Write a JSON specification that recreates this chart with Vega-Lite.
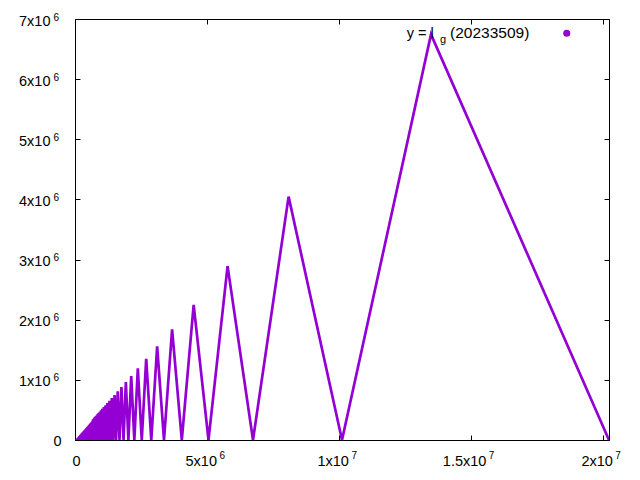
{
  "$schema": "https://vega.github.io/schema/vega-lite/v6.json",
  "width": 534,
  "height": 421,
  "autosize": {"type": "none"},
  "padding": {"left": 75, "top": 19, "right": 31, "bottom": 40},
  "background": "white",
  "config": {
    "view": {"stroke": "black", "strokeWidth": 1},
    "font": "Liberation Sans",
    "text": {"font": "Liberation Sans", "color": "black"}
  },
  "datasets": {
    "curve": [
      {"x": 20233509, "y": 0},
      {"x": 13489006, "y": 6744503},
      {"x": 10116755, "y": 0},
      {"x": 8093404, "y": 4046702},
      {"x": 6744503, "y": 0},
      {"x": 5781003, "y": 2890501},
      {"x": 5058377, "y": 0},
      {"x": 4496335, "y": 2248168},
      {"x": 4046702, "y": 0},
      {"x": 3678820, "y": 1839410},
      {"x": 3372252, "y": 0},
      {"x": 3112848, "y": 1556424},
      {"x": 2890501, "y": 0},
      {"x": 2697801, "y": 1348901},
      {"x": 2529189, "y": 0},
      {"x": 2380413, "y": 1190206},
      {"x": 2248168, "y": 0},
      {"x": 2129843, "y": 1064922},
      {"x": 2023351, "y": 0},
      {"x": 1927001, "y": 963500},
      {"x": 1839410, "y": 0},
      {"x": 1759436, "y": 879718},
      {"x": 1686126, "y": 0},
      {"x": 1618681, "y": 809340},
      {"x": 1556424, "y": 0},
      {"x": 1498778, "y": 749389},
      {"x": 1445251, "y": 0},
      {"x": 1395414, "y": 697707},
      {"x": 1348901, "y": 0},
      {"x": 1305388, "y": 652694},
      {"x": 1264594, "y": 0},
      {"x": 1226273, "y": 613137},
      {"x": 1190206, "y": 0},
      {"x": 1156200, "y": 578100},
      {"x": 1124084, "y": 0},
      {"x": 1093703, "y": 546852},
      {"x": 1064922, "y": 0},
      {"x": 1037616, "y": 518808},
      {"x": 1011675, "y": 0},
      {"x": 987000, "y": 493500},
      {"x": 963500, "y": 0},
      {"x": 941093, "y": 470547},
      {"x": 919705, "y": 0},
      {"x": 899267, "y": 449634},
      {"x": 879718, "y": 0},
      {"x": 861000, "y": 430500},
      {"x": 843063, "y": 0},
      {"x": 825858, "y": 412929},
      {"x": 809340, "y": 0},
      {"x": 793471, "y": 396735},
      {"x": 778212, "y": 0},
      {"x": 763529, "y": 381764},
      {"x": 749389, "y": 0},
      {"x": 735764, "y": 367882},
      {"x": 722625, "y": 0},
      {"x": 709948, "y": 354974},
      {"x": 697707, "y": 0},
      {"x": 685882, "y": 342941},
      {"x": 674450, "y": 0}
    ],
    "fill": [
      {"x": 0, "y": 0},
      {"x": 674450, "y": 337225}
    ],
    "key": [
      {"label": "y = l", "sub": "g", "arg": "(20233509)"}
    ]
  },
  "layer": [
    {
      "data": {"name": "curve"},
      "mark": {"type": "line", "color": "#9400D3", "strokeWidth": 2.7, "clip": true},
      "encoding": {
        "x": {
          "field": "x", "type": "quantitative",
          "scale": {"domain": [0, 20233509], "nice": false, "zero": true},
          "axis": {
            "orient": "bottom", "title": null, "values": [0, 5000000, 10000000, 15000000, 20000000],
            "labels": false, "domain": false, "grid": false, "ticks": true,
            "tickSize": -5, "tickColor": "black", "tickWidth": 1
          }
        },
        "y": {
          "field": "y", "type": "quantitative",
          "scale": {"domain": [0, 7000000], "nice": false},
          "axis": {
            "orient": "left", "title": null, "values": [0, 1000000, 2000000, 3000000, 4000000, 5000000, 6000000, 7000000],
            "labels": false, "domain": false, "grid": false, "ticks": true,
            "tickSize": -5, "tickColor": "black", "tickWidth": 1
          }
        }
      }
    },
    {
      "data": {"name": "fill"},
      "mark": {"type": "area", "color": "#9400D3", "opacity": 1, "clip": true},
      "encoding": {
        "x": {
          "field": "x", "type": "quantitative",
          "axis": {"orient": "top", "title": null, "values": [0, 5000000, 10000000, 15000000, 20000000], "labels": false, "domain": false, "grid": false, "ticks": true, "tickSize": -5, "tickColor": "black", "tickWidth": 1}
        },
        "y": {
          "field": "y", "type": "quantitative",
          "axis": {"orient": "right", "title": null, "values": [0, 1000000, 2000000, 3000000, 4000000, 5000000, 6000000, 7000000], "labels": false, "domain": false, "grid": false, "ticks": true, "tickSize": -5, "tickColor": "black", "tickWidth": 1}
        }
      }
    },
    {
      "data": {"name": "key"},
      "mark": {"type": "text", "align": "left", "baseline": "alphabetic", "fontSize": 14.5},
      "encoding": {
        "text": {"field": "label"},
        "x": {
          "datum": 12569000, "type": "quantitative",
          "axis": {
            "orient": "bottom", "title": null, "values": [0, 5000000, 10000000, 15000000, 20000000],
            "labelExpr": "datum.value == 0 ? '0' : datum.value < 9000000 ? '' + (datum.value/1000000) + 'x10' : '' + (datum.value/10000000) + 'x10'",
            "domain": false, "grid": false, "ticks": false,
            "labelFontSize": 14.5, "labelColor": "black", "labelFont": "Liberation Sans",
            "labelBaseline": "alphabetic", "labelPadding": 25,
            "labelAlign": {"condition": {"test": "datum.value == 0", "value": "center"}, "value": "right"},
            "labelOffset": {"condition": [{"test": "datum.value == 0", "value": 1}, {"test": "datum.value == 15000000", "value": 15}], "value": 9.5},
            "labelFlush": false, "labelOverlap": false
          }
        },
        "y": {
          "datum": 6679000, "type": "quantitative",
          "axis": {
            "orient": "left", "title": null, "values": [0, 1000000, 2000000, 3000000, 4000000, 5000000, 6000000, 7000000],
            "labelExpr": "datum.value == 0 ? '0' : '' + (datum.value/1000000) + 'x10'",
            "domain": false, "grid": false, "ticks": false,
            "labelFontSize": 14.5, "labelColor": "black", "labelFont": "Liberation Sans",
            "labelBaseline": "alphabetic", "labelAlign": "right",
            "labelPadding": {"condition": {"test": "datum.value == 0", "value": 14}, "value": 25},
            "labelOffset": {"condition": {"test": "datum.value == 0", "value": 5}, "value": 6},
            "labelFlush": false, "labelOverlap": false
          }
        }
      }
    },
    {
      "data": {"name": "key"},
      "mark": {"type": "text", "align": "left", "baseline": "alphabetic", "fontSize": 15.5},
      "encoding": {
        "text": {"field": "arg"},
        "x": {
          "datum": 14210000, "type": "quantitative",
          "axis": {
            "orient": "bottom", "title": null, "values": [0, 5000000, 10000000, 15000000, 20000000],
            "labelExpr": "datum.value == 0 ? '' : datum.value < 9000000 ? '6' : '7'",
            "domain": false, "grid": false, "ticks": false,
            "labelFontSize": 10, "labelColor": "black", "labelFont": "Liberation Sans",
            "labelBaseline": "alphabetic", "labelPadding": 18, "labelAlign": "left",
            "labelOffset": {"condition": {"test": "datum.value == 15000000", "value": 17.4}, "value": 12},
            "labelFlush": false, "labelOverlap": false
          }
        },
        "y": {
          "datum": 6679000, "type": "quantitative",
          "axis": {
            "orient": "left", "title": null, "values": [0, 1000000, 2000000, 3000000, 4000000, 5000000, 6000000, 7000000],
            "labelExpr": "datum.value == 0 ? '' : '6'",
            "domain": false, "grid": false, "ticks": false,
            "labelFontSize": 10, "labelColor": "black", "labelFont": "Liberation Sans",
            "labelBaseline": "alphabetic", "labelAlign": "left", "labelPadding": 22, "labelOffset": 1,
            "labelFlush": false, "labelOverlap": false
          }
        }
      }
    },
    {
      "data": {"name": "key"},
      "mark": {"type": "text", "align": "left", "baseline": "alphabetic", "fontSize": 11},
      "encoding": {
        "text": {"field": "sub"},
        "x": {"datum": 13831000, "type": "quantitative", "axis": null},
        "y": {"datum": 6593000, "type": "quantitative", "axis": null}
      }
    },
    {
      "data": {"name": "key"},
      "mark": {"type": "point", "shape": "circle", "filled": true, "color": "#9400D3", "size": 50, "opacity": 1},
      "encoding": {
        "x": {"datum": 18632000, "type": "quantitative", "axis": null},
        "y": {"datum": 6763000, "type": "quantitative", "axis": null}
      }
    }
  ],
  "resolve": {"axis": {"x": "independent", "y": "independent"}}
}
